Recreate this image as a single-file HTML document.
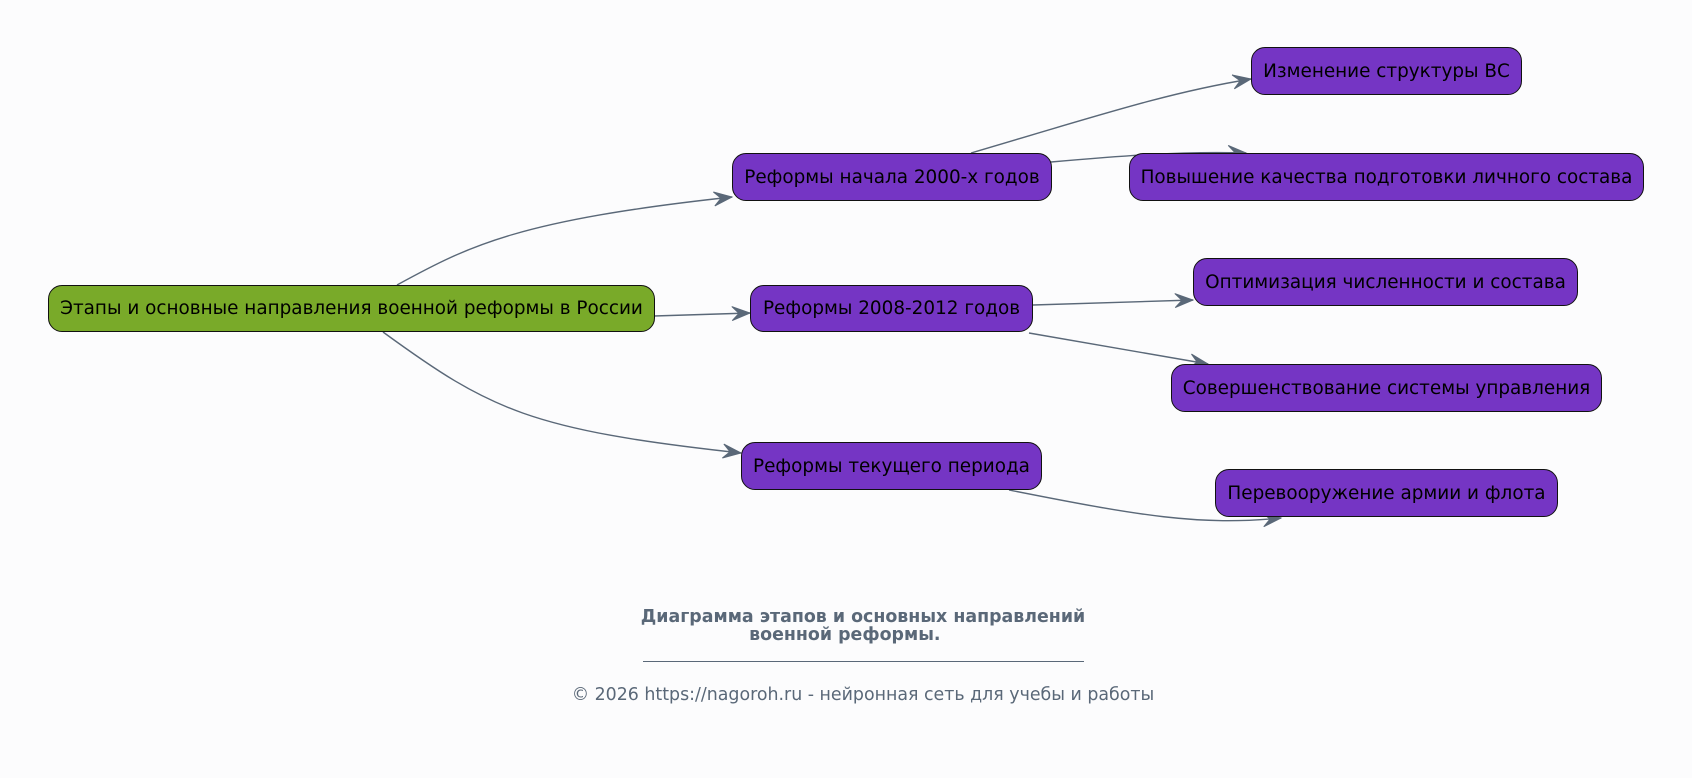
<!DOCTYPE html>
<html><head><meta charset="utf-8"><style>
body{margin:0;width:1692px;height:778px;background:#fcfcfd;font-family:"DejaVu Sans","Liberation Sans",sans-serif;position:relative;overflow:hidden}
.n{position:absolute;box-sizing:border-box;border:1.3px solid #111;border-radius:14px;background:#7535c4;color:#000;font-size:18.4px;display:flex;align-items:center;justify-content:center;white-space:nowrap}
.t{position:absolute;left:17px;width:1692px;text-align:center;color:#5a6878}
</style></head><body>
<svg width="1692" height="778" style="position:absolute;left:0;top:0">
<defs><marker id="a" markerWidth="24" markerHeight="16" refX="20" refY="8" orient="auto" markerUnits="userSpaceOnUse"><path d="M2,1 L20,8 L2,15 L9,8 Z" fill="#5a6878" stroke="#5a6878" stroke-width="1"/></marker></defs>
<g fill="none" stroke="#5a6878" stroke-width="1.4" marker-end="url(#a)">
<path d="M397,285 C470,245 520,220 732,197"/>
<path d="M654,316 L750,313"/>
<path d="M383,332 C490,410 530,430 741,453"/>
<path d="M971,153 C1100,115 1170,92 1251,79"/>
<path d="M1051,162 C1120,156 1180,151 1246,153"/>
<path d="M1033,305 L1193,300"/>
<path d="M1029,333 L1208,364"/>
<path d="M1009,490 C1140,516 1200,526 1281,518"/>
</g></svg>
<div class="n" style="left:48px;top:285px;width:607px;height:47px;background:#79aa29">Этапы и основные направления военной реформы в России</div>
<div class="n" style="left:732px;top:153px;width:320px;height:48px">Реформы начала 2000-х годов</div>
<div class="n" style="left:750px;top:285px;width:283px;height:47px">Реформы 2008-2012 годов</div>
<div class="n" style="left:741px;top:442px;width:301px;height:48px">Реформы текущего периода</div>
<div class="n" style="left:1251px;top:47px;width:271px;height:48px">Изменение структуры ВС</div>
<div class="n" style="left:1129px;top:153px;width:515px;height:48px">Повышение качества подготовки личного состава</div>
<div class="n" style="left:1193px;top:258px;width:385px;height:48px">Оптимизация численности и состава</div>
<div class="n" style="left:1171px;top:364px;width:431px;height:48px">Совершенствование системы управления</div>
<div class="n" style="left:1215px;top:469px;width:343px;height:48px">Перевооружение армии и флота</div>
<div class="t" style="top:608px;font-weight:bold;font-size:17.4px;line-height:18px">Диаграмма этапов и основных направлений<br>военной реформы.&nbsp;&nbsp;&nbsp;&nbsp;&nbsp;&nbsp;</div>
<div style="position:absolute;left:643px;top:661px;width:441px;border-top:1px solid #5a6878"></div>
<div class="t" style="top:685px;font-size:17.4px">© 2026 https://nagoroh.ru - нейронная сеть для учебы и работы</div>
</body></html>
